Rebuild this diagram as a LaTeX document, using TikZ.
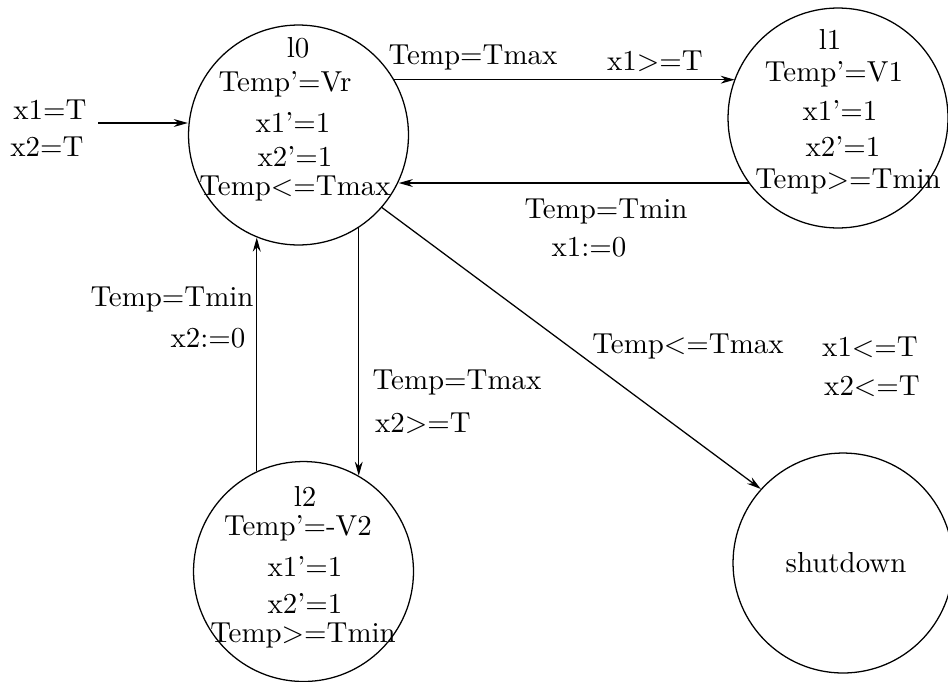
\documentclass[tikz,border=0pt]{standalone}
\usetikzlibrary{arrows.meta}
\begin{document}
\begin{tikzpicture}[x=0.3546pt,y=-0.3546pt,
  state/.style={circle,draw,minimum size=78pt,inner sep=0pt},
  lbl/.style={inner sep=0pt,anchor=center,font=\fontsize{10.25}{12}\selectfont},
  arr/.style={-{Stealth[length=5pt,width=2.8pt]}},
  line width=0.45pt]
\clip (0,0) rectangle (948,681);
% states
\node[state] (l0) at (298.5,135) {};
\node[state] (l1) at (838,118) {};
\node[state] (l2) at (303.5,571.5) {};
\node[state] (sd) at (843,563) {};
% state texts
\node[lbl] (l0a) at (298,48) {l0};
\node[lbl] (l0b) at (285,84) {Temp'=Vr};
\node[lbl] (l0c) at (293,122) {x1'=1};
\node[lbl] (l0d) at (295,156) {x2'=1};
\node[lbl] (l0e) at (295,189) {Temp<=Tmax};
\node[lbl] (l1a) at (830,39) {l1};
\node[lbl] (l1b) at (834,74) {Temp'=V1};
\node[lbl] (l1c) at (840,110) {x1'=1};
\node[lbl] (l1d) at (843,146) {x2'=1};
\node[lbl] (l1e) at (848,182) {Temp>=Tmin};
\node[lbl] (l2a) at (305,496) {l2};
\node[lbl] (l2b) at (298,528) {Temp'=-V2};
\node[lbl] (l2c) at (305,566) {x1'=1};
\node[lbl] (l2d) at (305,603) {x2'=1};
\node[lbl] (l2e) at (303,636) {Temp>=Tmin};
\node[lbl] (sdt) at (846,563) {shutdown};
% initial
\node[lbl] (i1) at (50,110) {x1=T};
\node[lbl] (i2) at (47,147) {x2=T};
\coordinate (init) at (98,123);
\draw[arr] (init) -- (init -| l0.west);
% l0 -> l1
\draw[arr] (l0.30.4) -- (l0.30.4 -| l1.159.3);
\node[lbl] (e1a) at (473,58) {Temp=Tmax};
\node[lbl] (e1b) at (655,61) {x1>=T};
% l1 -> l0
\draw[arr] (l1.-144.2) -- (l1.-144.2 -| l0.-25.3);
\node[lbl] (e2a) at (606,212) {Temp=Tmin};
\node[lbl] (e2b) at (589,247) {x1:=0};
% l2 -> l0
\draw[arr] (l2.115) -- (l2.115 |- l0.-112.2);
\node[lbl] (e3a) at (172,300) {Temp=Tmin};
\node[lbl] (e3b) at (208,338) {x2:=0};
% l0 -> l2
\draw[arr] (l0.-57) -- (l0.-57 |- l2.60);
\node[lbl] (e4a) at (457,383) {Temp=Tmax};
\node[lbl] (e4b) at (423,423) {x2>=T};
% l0 -> shutdown
\draw[arr] (l0.-41.9) -- (sd.138.4);
\node[lbl] (e5a) at (688,347) {Temp<=Tmax};
\node[lbl] (e5b) at (870,347) {x1<=T};
\node[lbl] (e5c) at (872,386) {x2<=T};
\end{tikzpicture}
\end{document}
